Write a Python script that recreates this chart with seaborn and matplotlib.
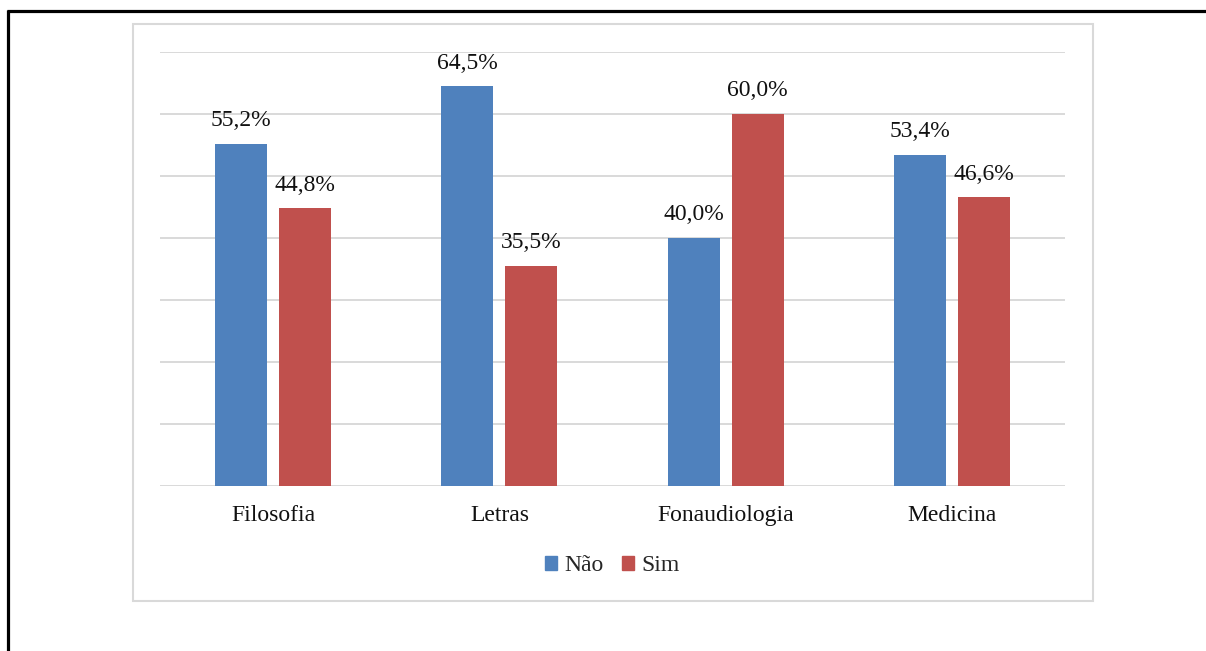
import matplotlib
matplotlib.use("Agg")
import matplotlib.pyplot as plt
from matplotlib.lines import Line2D
from matplotlib.patches import Rectangle
import seaborn as sns
import pandas as pd

# Survey answers per course (percent)
cursos = ["Filosofia", "Letras", "Fonaudiologia", "Medicina"]
nao = [55.2, 64.5, 40.0, 53.4]
sim = [44.8, 35.5, 60.0, 46.6]
respostas = ["Não", "Sim"]
cores = ["#4F81BD", "#C0504D"]

df = pd.DataFrame({
    "curso": cursos * 2,
    "resposta": [respostas[0]] * len(cursos) + [respostas[1]] * len(cursos),
    "valor": nao + sim,
})

sns.set_theme(style="white")
plt.rcParams["font.family"] = ["Liberation Serif", "DejaVu Serif"]

fig = plt.figure(figsize=(12.06, 6.51), dpi=100)
ax = fig.add_axes([160 / 1206, 1 - 486 / 651, 905 / 1206, 434 / 651])

sns.barplot(data=df, x="curso", y="valor", hue="resposta", order=cursos,
            hue_order=respostas, palette=cores, width=0.566, gap=0.19,
            saturation=1, linewidth=0, ax=ax, legend=True)

ax.set_ylim(0, 70)
ax.set_xlim(-0.5, 3.5)
ax.set_yticks(range(0, 71, 10))
ax.set_yticklabels([])
ax.yaxis.grid(True, color="#d9d9d9", linewidth=1.4)
ax.set_axisbelow(True)
for s in ax.spines.values():
    s.set_visible(False)
ax.tick_params(axis="both", length=0)
ax.tick_params(axis="x", pad=14, labelsize=17, labelcolor="#111111")
ax.set_xlabel("")
ax.set_ylabel("")

for cont in ax.containers:
    labels = [f"{v:.1f}%".replace(".", ",") for v in cont.datavalues]
    ax.bar_label(cont, labels=labels, padding=9, fontsize=17, color="#111111")

handles = [Rectangle((0, 0), 1, 1, color=c) for c in cores]
ax.legend(handles, respostas, loc="center", bbox_to_anchor=(0.5, -0.184),
          ncol=2, frameon=False, fontsize=17, handlelength=0.5,
          handleheight=0.5, handletextpad=0.3, columnspacing=0.8)

# chart area frame
fig.add_artist(Rectangle((133 / 1206, 1 - 601 / 651), 960 / 1206, 577 / 651,
                         transform=fig.transFigure, fill=False,
                         edgecolor="#d9d9d9", linewidth=1.5))
# page border lines (top and left)
fig.add_artist(Line2D([7 / 1206, 1], [1 - 11 / 651, 1 - 11 / 651],
                      transform=fig.transFigure, color="black", linewidth=2.3,
                      solid_capstyle="butt"))
fig.add_artist(Line2D([8 / 1206, 8 / 1206], [0, 1 - 10 / 651],
                      transform=fig.transFigure, color="black", linewidth=2.3,
                      solid_capstyle="butt"))

fig.savefig("out.png", dpi=100, facecolor="white")
